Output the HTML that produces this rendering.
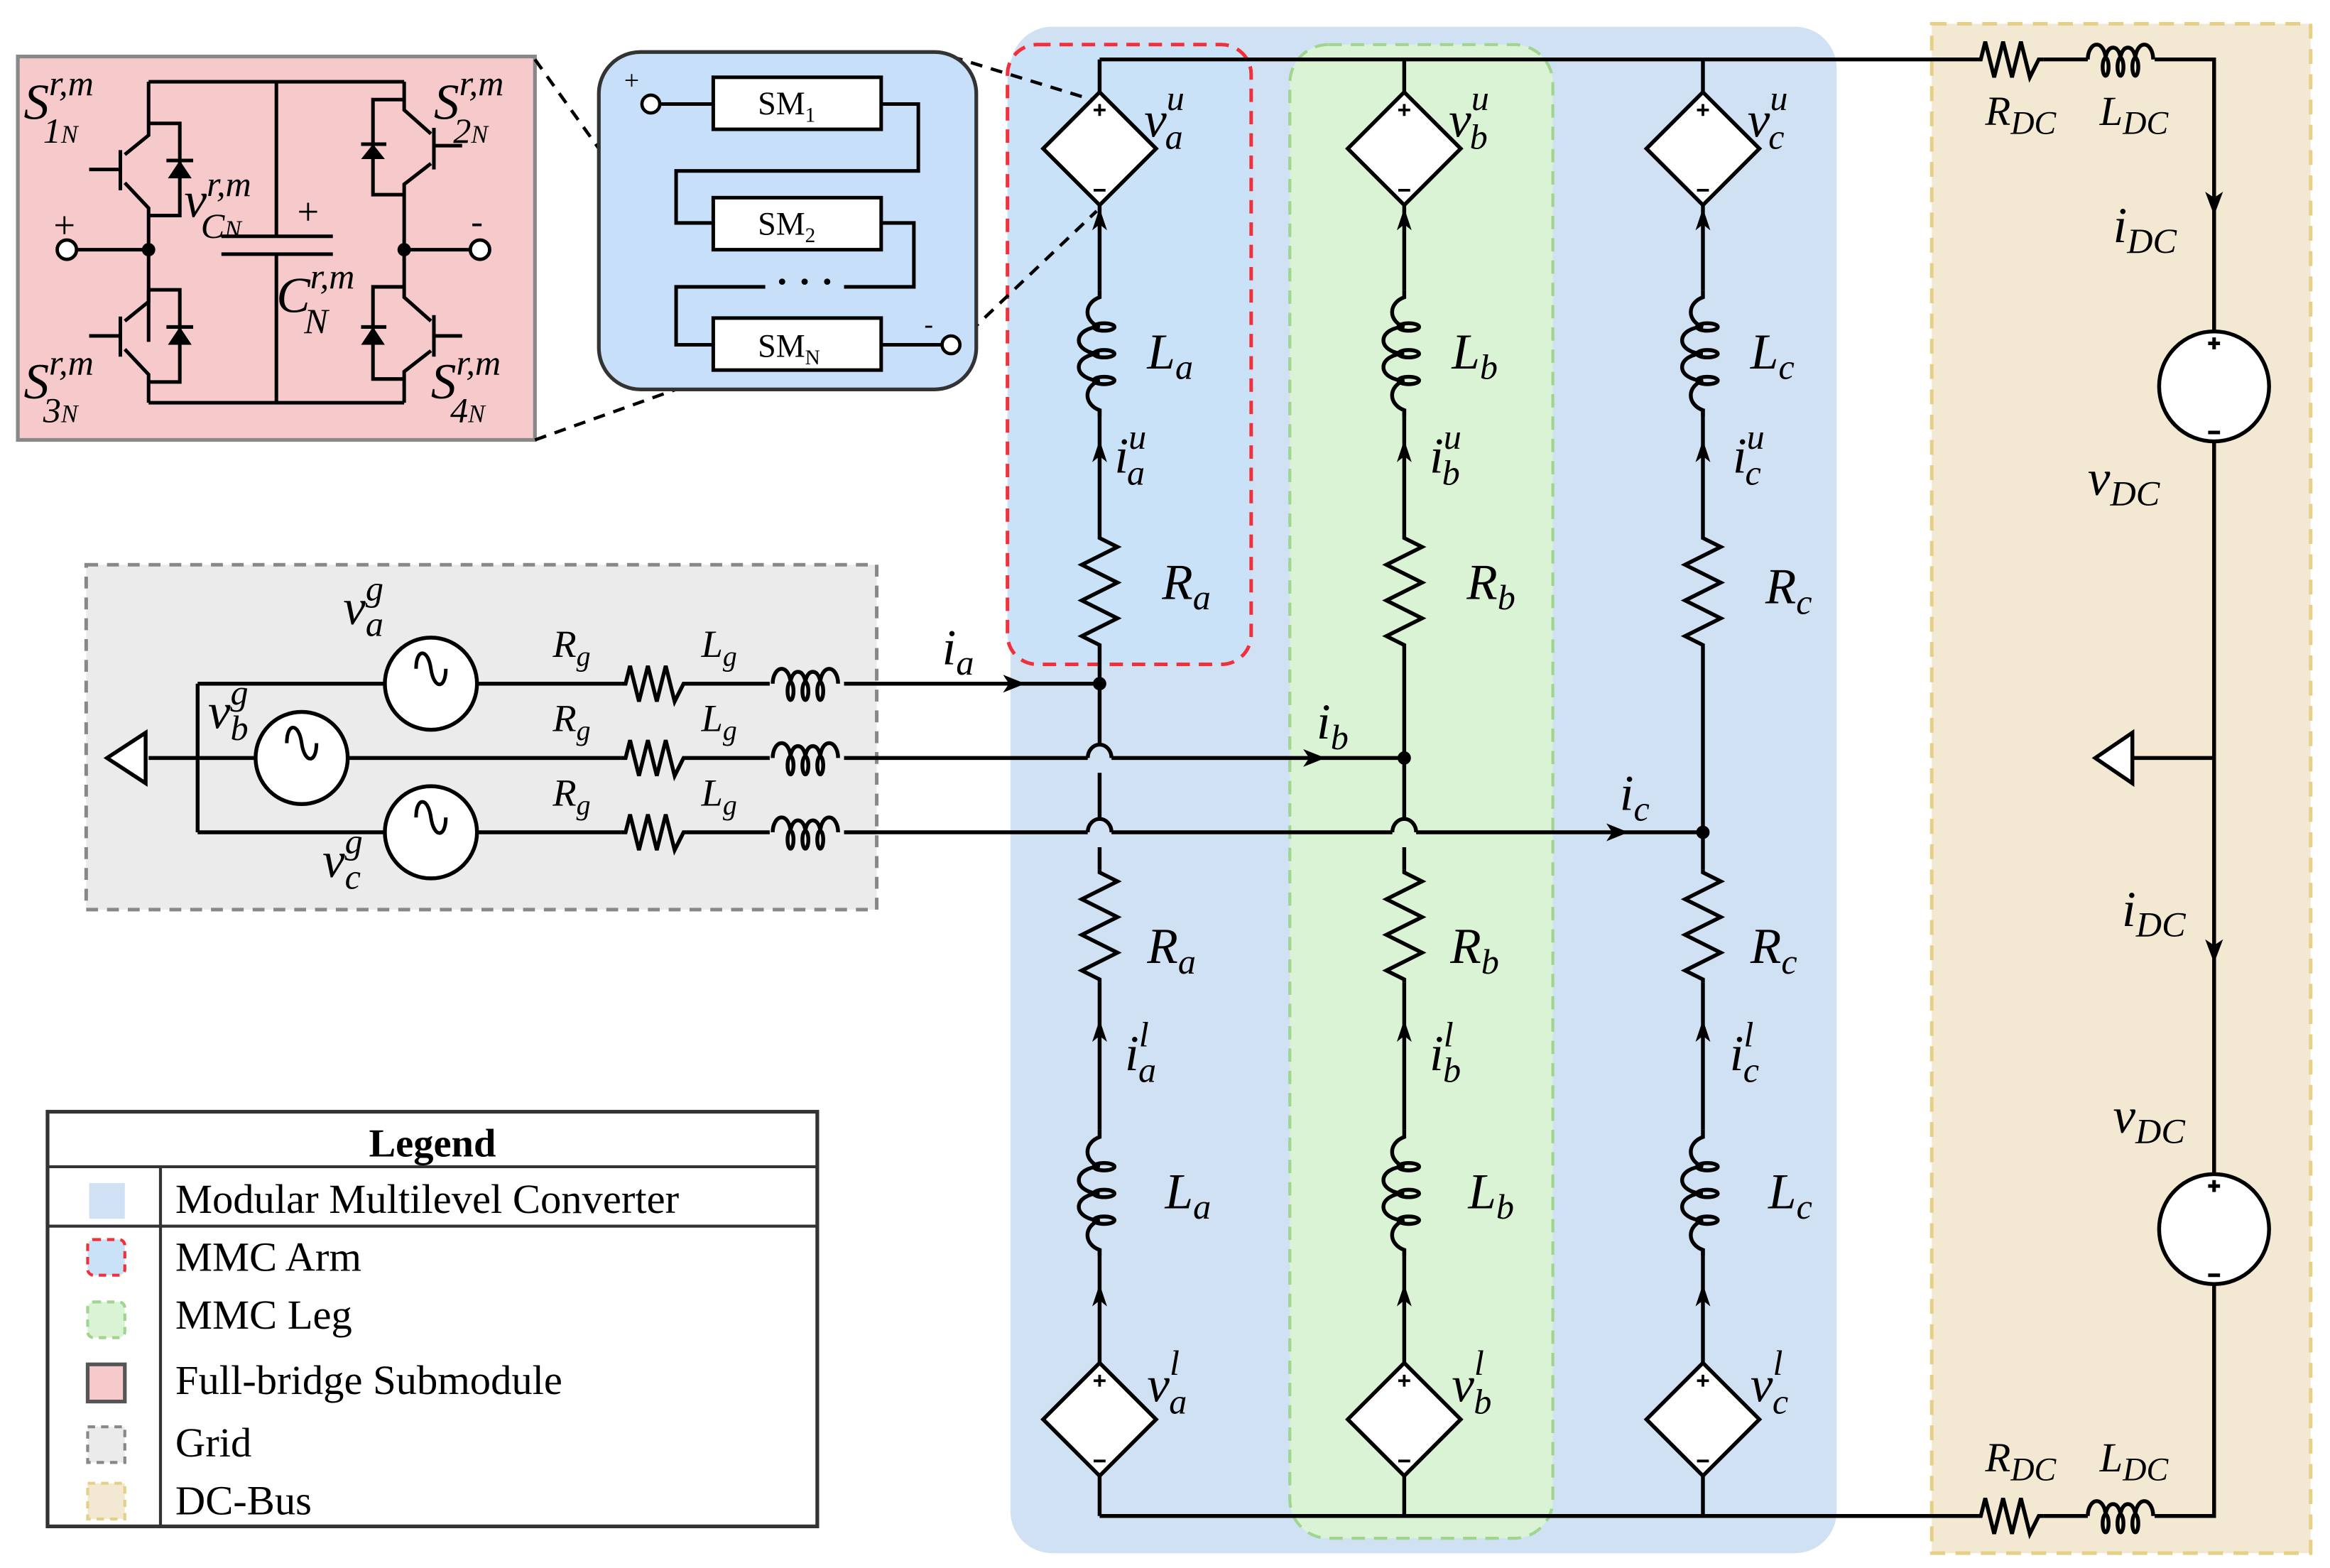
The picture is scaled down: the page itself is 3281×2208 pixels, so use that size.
<!DOCTYPE html>
<html><head><meta charset="utf-8"><style>
html,body{margin:0;padding:0;background:#fff;}
svg{display:block;}
text{font-family:"Liberation Serif",serif;}
.m{font-style:italic;font-size:34px;}
.s{font-size:24px;}
.lg{font-size:28px;}
</style></head><body>
<svg width="3281" height="2208" viewBox="0 0 1568 1055" preserveAspectRatio="none" xmlns="http://www.w3.org/2000/svg">
<defs>
<path id="rv" d="M0 0 l0 2 l12 6 l-24 12 l24 12 l-24 12 l24 12 l-24 12 l12 6 l0 2" fill="none" stroke="#000" stroke-width="2.6"/>
<g id="iv" fill="none" stroke="#000" stroke-width="2.6">
<path d="M0 0 l0 5 a14 11 0 0 0 0 20 a14 9 0 0 0 0 18 a14 9 0 0 0 0 18 a14 11 0 0 0 0 20 l0 4"/>
<ellipse cx="3" cy="25" rx="7" ry="2.5"/><ellipse cx="3" cy="43" rx="7" ry="2.5"/><ellipse cx="3" cy="61" rx="7" ry="2.5"/>
</g>
<g id="ih" fill="none" stroke="#000" stroke-width="2.6">
<path d="M0 0 a6 10 0 0 1 12 0 a5 8 0 0 1 10 0 a5 8 0 0 1 10 0 a6 10 0 0 1 12 0"/>
<ellipse cx="12" cy="5" rx="2" ry="6"/><ellipse cx="22" cy="5" rx="2" ry="6"/><ellipse cx="32" cy="5" rx="2" ry="6"/>
</g>
<g id="dm">
<polygon points="0,-38 38,0 0,38 -38,0" fill="#fff" stroke="#000" stroke-width="2.6"/>
<path d="M-4 -26 h8 M0 -30 v8 M-4 28 h8" stroke="#000" stroke-width="1.8"/>
</g>
<path id="au" d="M0 0 l-5 15 l5 -4 l5 4 z" fill="#000"/>
</defs>

<rect x="680" y="18" width="556" height="1027" rx="28" fill="#d0e1f3"/>
<rect x="678" y="30" width="164" height="417" rx="20" fill="#c9e2f8" stroke="#f0303a" stroke-width="2.4" stroke-dasharray="9,6"/>
<rect x="868" y="30" width="177" height="1005" rx="26" fill="#dbf3d5" stroke="#9fd58f" stroke-width="2" stroke-dasharray="9,6"/>
<rect x="1300" y="16" width="255" height="1029" fill="#f3e9d3" stroke="#e6cf86" stroke-width="2.4" stroke-dasharray="10,7"/>
<rect x="58" y="380" width="532" height="232" fill="#ebebeb" stroke="#888" stroke-width="2.4" stroke-dasharray="8,6"/>

<rect x="12" y="38" width="348" height="258" fill="#f6c9cb" stroke="#888" stroke-width="2.5"/>
<g fill="none" stroke="#000" stroke-width="2.4">
<path d="M100 55 H272 M100 271 H272 M186 55 V159 M186 171 V271 M149 159 H224 M149 171 H224"/>
<path d="M100 55 V91 L84 104 M84 123 L100 140 V230 M81 101 V128 M60 114 H81"/>
<path d="M100 83 H121 V145 H100 M112 108 H130"/>
<path d="M100 195 V203 L84 216 M84 235 L100 252 V271 M81 213 V240 M60 226 H81"/>
<path d="M100 195 H121 V257 H100 M112 220 H130"/>
<path d="M272 55 V74 L290 90 M290 110 L272 124 V200 L290 216 M290 236 L272 250 V271 M292 86 V114 M292 212 V240 M292 98 H311 M292 226 H311"/>
<path d="M272 67 H251 V131 H272 M243 97 H260 M272 193 H251 V255 H272 M243 220 H260"/>
<path d="M52 168 H100 M272 168 H316"/>
</g>
<g fill="#000"><polygon points="121,108 113,120 129,120"/><polygon points="121,220 113,232 129,232"/>
<polygon points="251,97 243,107 259,107"/><polygon points="251,220 243,232 259,232"/>
<circle cx="100" cy="168" r="4.5"/><circle cx="272" cy="168" r="4.5"/></g>
<circle cx="45" cy="168" r="6.5" fill="#fff" stroke="#000" stroke-width="2.3"/>
<circle cx="323" cy="168" r="6.5" fill="#fff" stroke="#000" stroke-width="2.3"/>
<text x="36" y="160" font-size="26">+</text><text x="317" y="157" font-size="24">-</text>
<text x="200" y="151" font-size="26">+</text>
<g class="m">
<text x="16" y="80">S<tspan class="s" dy="-16">r,m</tspan><tspan class="s" dx="-34" dy="32">1<tspan font-size="17">N</tspan></tspan></text>
<text x="292" y="80">S<tspan class="s" dy="-16">r,m</tspan><tspan class="s" dx="-34" dy="32">2<tspan font-size="17">N</tspan></tspan></text>
<text x="16" y="268">S<tspan class="s" dy="-16">r,m</tspan><tspan class="s" dx="-34" dy="32">3<tspan font-size="17">N</tspan></tspan></text>
<text x="290" y="268">S<tspan class="s" dy="-16">r,m</tspan><tspan class="s" dx="-34" dy="32">4<tspan font-size="17">N</tspan></tspan></text>
<text x="124" y="146">v<tspan class="s" dy="-14">r,m</tspan><tspan class="s" dx="-34" dy="28">C<tspan font-size="17">N</tspan></tspan></text>
<text x="186" y="210">C<tspan class="s" dy="-16">r,m</tspan><tspan class="s" dx="-34" dy="30">N</tspan></text>
</g>

<g stroke="#000" stroke-width="2.2" stroke-dasharray="8,6" fill="none">
<path d="M360 40 L403 100 M360 296 L455 262 M640 38 L738 68 M612 262 L738 142"/>
</g>

<rect x="403" y="35" width="254" height="227" rx="28" fill="#c7dff8" stroke="#333" stroke-width="2.5"/>
<g fill="none" stroke="#000" stroke-width="2.4">
<path d="M444 70 H480 M593 70 H618 V115 H455 V150 H480 M593 150 H615 V193 H568 M515 193 H455 V232 H480 M593 232 H634"/>
<rect x="480" y="52" width="113" height="35" fill="#fff"/>
<rect x="480" y="133" width="113" height="35" fill="#fff"/>
<rect x="480" y="214" width="113" height="35" fill="#fff"/>
</g>
<circle cx="438" cy="70" r="6" fill="#fff" stroke="#000" stroke-width="2.2"/>
<circle cx="640" cy="232" r="6" fill="#fff" stroke="#000" stroke-width="2.2"/>
<text x="420" y="60" font-size="18">+</text><text x="622" y="224" font-size="18">-</text>
<text x="510" y="77" font-size="22">SM<tspan font-size="14" dy="5">1</tspan></text>
<text x="510" y="158" font-size="22">SM<tspan font-size="14" dy="5">2</tspan></text>
<text x="510" y="240" font-size="22">SM<tspan font-size="14" dy="5">N</tspan></text>
<text x="522" y="198" font-size="26" font-weight="bold">· · ·</text>

<g fill="none" stroke="#000" stroke-width="2.6">
<path d="M740 40 H1330 M1375 40 H1405 M1450 40 H1490 V222 M1490 298 V789 M1490 865 V1020 H1450 M1405 1020 H1375 M1330 1020 H740"/>
<path d="M1435 510 H1490"/>
<path d="M740 40 V62 M740 138 V195 M740 275 V360 M740 436 V500 M740 520 V550 M740 570 V585 M740 661 V760 M740 840 V918 M740 992 V1020"/>
<path d="M732 510 a8 9 0 0 1 16 0 M732 560 a8 9 0 0 1 16 0"/>
<path d="M945 40 V62 M945 138 V195 M945 275 V360 M945 436 V550 M945 570 V585 M945 661 V760 M945 840 V918 M945 992 V1020"/>
<path d="M937 560 a8 9 0 0 1 16 0"/>
<path d="M1146 40 V62 M1146 138 V195 M1146 275 V360 M1146 436 V585 M1146 661 V760 M1146 840 V918 M1146 992 V1020"/>
<path d="M133 460 H259 M321 460 H418 M465 460 H518 M568 460 H740"/>
<path d="M100 510 H172 M234 510 H418 M465 510 H518 M568 510 H732 M748 510 H945"/>
<path d="M133 560 H259 M321 560 H418 M465 560 H518 M568 560 H732 M748 560 H937 M953 560 H1146"/>
<path d="M133 460 V560"/>
</g>
<g fill="#000"><circle cx="740" cy="460" r="4.5"/><circle cx="945" cy="510" r="4.5"/><circle cx="1146" cy="560" r="4.5"/></g>

<use href="#iv" x="740" y="195"/><use href="#iv" x="945" y="195"/><use href="#iv" x="1146" y="195"/>
<use href="#iv" x="740" y="760"/><use href="#iv" x="945" y="760"/><use href="#iv" x="1146" y="760"/>
<use href="#rv" x="740" y="360"/><use href="#rv" x="945" y="360"/><use href="#rv" x="1146" y="360"/>
<use href="#rv" x="740" y="585"/><use href="#rv" x="945" y="585"/><use href="#rv" x="1146" y="585"/>
<g fill="none" stroke="#000" stroke-width="2.6">
<path d="M418 460 l3 0 l3 -12 l6 24 l6 -24 l6 24 l6 -24 l6 24 l6 -12 l5 0"/>
<path d="M418 510 l3 0 l3 -12 l6 24 l6 -24 l6 24 l6 -24 l6 24 l6 -12 l5 0"/>
<path d="M418 560 l3 0 l3 -12 l6 24 l6 -24 l6 24 l6 -24 l6 24 l6 -12 l5 0"/>
<path d="M1330 40 l3 0 l3 -12 l6 24 l6 -24 l6 24 l6 -24 l6 24 l6 -12 l3 0"/>
<path d="M1330 1020 l3 0 l3 -12 l6 24 l6 -24 l6 24 l6 -24 l6 24 l6 -12 l3 0"/>
</g>
<use href="#ih" x="520" y="460"/><use href="#ih" x="520" y="510"/><use href="#ih" x="520" y="560"/>
<use href="#ih" x="1405" y="40"/><use href="#ih" x="1405" y="1020"/>

<use href="#dm" x="740" y="100"/><use href="#dm" x="945" y="100"/><use href="#dm" x="1146" y="100"/>
<use href="#dm" x="740" y="955"/><use href="#dm" x="945" y="955"/><use href="#dm" x="1146" y="955"/>

<use href="#au" x="740" y="140"/><use href="#au" x="945" y="140"/><use href="#au" x="1146" y="140"/>
<use href="#au" x="740" y="296"/><use href="#au" x="945" y="296"/><use href="#au" x="1146" y="296"/>
<use href="#au" x="740" y="686"/><use href="#au" x="945" y="686"/><use href="#au" x="1146" y="686"/>
<use href="#au" x="740" y="864"/><use href="#au" x="945" y="864"/><use href="#au" x="1146" y="864"/>
<g fill="#000">
<path d="M690 460 l-15 -6 l4 6 l-4 6 z"/>
<path d="M892 510 l-15 -6 l4 6 l-4 6 z"/>
<path d="M1096 560 l-15 -6 l4 6 l-4 6 z"/>
<path d="M1490 145 l-6 -16 l6 4 l6 -4 z"/>
<path d="M1490 648 l-6 -16 l6 4 l6 -4 z"/>
</g>

<g fill="#fff" stroke="#000" stroke-width="2.6">
<circle cx="290" cy="460" r="31"/><circle cx="203" cy="510" r="31"/><circle cx="290" cy="560" r="31"/>
<circle cx="1490" cy="260" r="37"/><circle cx="1490" cy="827" r="37"/>
<polygon points="72,510 98,493 98,527"/>
<polygon points="1410,510 1435,493 1435,527"/>
</g>
<g fill="none" stroke="#000" stroke-width="2.4">
<path d="M280 450 c0 -14 8 -14 10 0 s10 14 10 0"/>
<path d="M193 500 c0 -14 8 -14 10 0 s10 14 10 0"/>
<path d="M280 550 c0 -14 8 -14 10 0 s10 14 10 0"/>
<path d="M1486 231 h8 M1490 227 v8 M1486 291 h8 M1486 798 h8 M1490 794 v8 M1486 858 h8"/>
</g>

<g class="m">
<text x="770" y="92">v<tspan class="s" dy="-18">u</tspan><tspan class="s" dx="-13" dy="26">a</tspan></text>
<text x="975" y="92">v<tspan class="s" dy="-18">u</tspan><tspan class="s" dx="-13" dy="26">b</tspan></text>
<text x="1176" y="92">v<tspan class="s" dy="-18">u</tspan><tspan class="s" dx="-13" dy="26">c</tspan></text>
<text x="772" y="943">v<tspan class="s" dy="-18">l</tspan><tspan class="s" dx="-7" dy="26">a</tspan></text>
<text x="977" y="943">v<tspan class="s" dy="-18">l</tspan><tspan class="s" dx="-7" dy="26">b</tspan></text>
<text x="1178" y="943">v<tspan class="s" dy="-18">l</tspan><tspan class="s" dx="-7" dy="26">c</tspan></text>
<text x="772" y="248">L<tspan class="s" dy="7">a</tspan></text>
<text x="977" y="248">L<tspan class="s" dy="7">b</tspan></text>
<text x="1178" y="248">L<tspan class="s" dy="7">c</tspan></text>
<text x="784" y="813">L<tspan class="s" dy="7">a</tspan></text>
<text x="988" y="813">L<tspan class="s" dy="7">b</tspan></text>
<text x="1190" y="813">L<tspan class="s" dy="7">c</tspan></text>
<text x="782" y="403">R<tspan class="s" dy="7">a</tspan></text>
<text x="987" y="403">R<tspan class="s" dy="7">b</tspan></text>
<text x="1188" y="406">R<tspan class="s" dy="7">c</tspan></text>
<text x="772" y="648">R<tspan class="s" dy="7">a</tspan></text>
<text x="976" y="648">R<tspan class="s" dy="7">b</tspan></text>
<text x="1178" y="648">R<tspan class="s" dy="7">c</tspan></text>
<text x="750" y="318">i<tspan class="s" dy="-16">u</tspan><tspan class="s" dx="-13" dy="24">a</tspan></text>
<text x="962" y="318">i<tspan class="s" dy="-16">u</tspan><tspan class="s" dx="-13" dy="24">b</tspan></text>
<text x="1166" y="318">i<tspan class="s" dy="-16">u</tspan><tspan class="s" dx="-13" dy="24">c</tspan></text>
<text x="757" y="720">i<tspan class="s" dy="-16">l</tspan><tspan class="s" dx="-7" dy="24">a</tspan></text>
<text x="962" y="720">i<tspan class="s" dy="-16">l</tspan><tspan class="s" dx="-7" dy="24">b</tspan></text>
<text x="1164" y="720">i<tspan class="s" dy="-16">l</tspan><tspan class="s" dx="-7" dy="24">c</tspan></text>
<text x="634" y="447">i<tspan class="s" dy="7">a</tspan></text>
<text x="886" y="497">i<tspan class="s" dy="7">b</tspan></text>
<text x="1090" y="545">i<tspan class="s" dy="7">c</tspan></text>
<text x="1336" y="84" font-size="28">R<tspan font-size="22" dy="6">DC</tspan></text>
<text x="1413" y="84" font-size="28">L<tspan font-size="22" dy="6">DC</tspan></text>
<text x="1336" y="990" font-size="28">R<tspan font-size="22" dy="6">DC</tspan></text>
<text x="1413" y="990" font-size="28">L<tspan font-size="22" dy="6">DC</tspan></text>
<text x="1422" y="163">i<tspan class="s" dy="7">DC</tspan></text>
<text x="1428" y="623">i<tspan class="s" dy="7">DC</tspan></text>
<text x="1405" y="333">v<tspan class="s" dy="7">DC</tspan></text>
<text x="1422" y="762">v<tspan class="s" dy="7">DC</tspan></text>
<text x="231" y="420">v<tspan class="s" dy="-16">g</tspan><tspan class="s" dx="-12" dy="24">a</tspan></text>
<text x="140" y="490">v<tspan class="s" dy="-16">g</tspan><tspan class="s" dx="-12" dy="24">b</tspan></text>
<text x="217" y="590">v<tspan class="s" dy="-16">g</tspan><tspan class="s" dx="-12" dy="24">c</tspan></text>
<text x="372" y="442" font-size="26">R<tspan font-size="19" dy="6">g</tspan></text>
<text x="372" y="492" font-size="26">R<tspan font-size="19" dy="6">g</tspan></text>
<text x="372" y="542" font-size="26">R<tspan font-size="19" dy="6">g</tspan></text>
<text x="472" y="442" font-size="26">L<tspan font-size="19" dy="6">g</tspan></text>
<text x="472" y="492" font-size="26">L<tspan font-size="19" dy="6">g</tspan></text>
<text x="472" y="542" font-size="26">L<tspan font-size="19" dy="6">g</tspan></text>
</g>

<rect x="32" y="748" width="518" height="279" fill="#fff" stroke="#333" stroke-width="2.5"/>
<path d="M32 785 H550 M32 825 H550 M108 785 V1027" stroke="#333" stroke-width="2"/>
<text x="291" y="778" text-anchor="middle" font-size="27" font-weight="bold">Legend</text>
<rect x="60" y="796" width="24" height="24" fill="#d0e1f3"/>
<rect x="59" y="834" width="25" height="24" rx="4" fill="#c9e2f8" stroke="#f0303a" stroke-width="2" stroke-dasharray="5,4"/>
<rect x="59" y="876" width="25" height="24" rx="4" fill="#dbf3d5" stroke="#9fd58f" stroke-width="2" stroke-dasharray="5,4"/>
<rect x="59" y="918" width="25" height="25" fill="#f6c9cb" stroke="#555" stroke-width="2.5"/>
<rect x="59" y="960" width="25" height="24" fill="#ebebeb" stroke="#888" stroke-width="2" stroke-dasharray="5,4"/>
<rect x="59" y="998" width="25" height="24" fill="#f3e9d3" stroke="#e6cf86" stroke-width="2" stroke-dasharray="5,4"/>
<g class="lg">
<text x="118" y="816">Modular Multilevel Converter</text>
<text x="118" y="855">MMC Arm</text>
<text x="118" y="894">MMC Leg</text>
<text x="118" y="938">Full-bridge Submodule</text>
<text x="118" y="980">Grid</text>
<text x="118" y="1019">DC-Bus</text>
</g>
</svg>
</body></html>
